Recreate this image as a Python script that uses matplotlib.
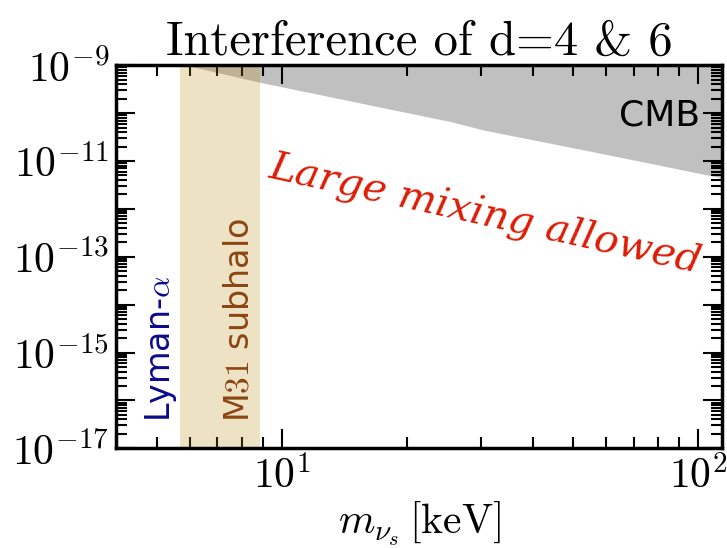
import numpy as np
import matplotlib.pyplot as plt
from matplotlib.ticker import LogLocator, FuncFormatter, NullFormatter

plt.rcParams['mathtext.fontset'] = 'cm'
plt.rcParams['font.family'] = 'DejaVu Sans'

# =========================================================
# Data
# =========================================================
m_cmb = [4.0, 5.87, 8.85, 25.5, 30.6, 53.2, 116.0]                 # keV
mix_cmb = [2.1e-9, 1.0e-9, 4.4e-10, 6.6e-11, 4.4e-11, 1.7e-11, 4.3e-12]

m31_band = [5.7, 8.85]      # keV, M31 subhalo bound
x_range = [4.0, 114.0]
y_range = [1e-17, 1e-9]
y_label_exps = [-17, -15, -13, -11, -9]

# =========================================================
# Figure
# =========================================================
fig = plt.figure(figsize=(7.27, 5.48), dpi=100)
ax = fig.add_axes([0.16, 0.182, 0.833, 0.699])

ax.set_xscale('log')
ax.set_yscale('log')

# CMB excluded region
ax.fill_between(m_cmb, mix_cmb, 1e-8, color='#c0c0c0', lw=0, zorder=1)

# M31 subhalo band
ax.axvspan(m31_band[0], m31_band[1], color='darkgoldenrod', alpha=0.24, lw=0, zorder=2)

ax.set_xlim(*x_range)
ax.set_ylim(*y_range)


def pow10(v, p):
    e = int(round(np.log10(v)))
    return r'$10^{%d}$' % e


def pow10_y(v, p):
    e = int(round(np.log10(v)))
    return r'$10^{%d}$' % e if e in y_label_exps else ''


# ticks
ax.yaxis.set_major_locator(LogLocator(base=10, numticks=20))
ax.yaxis.set_minor_locator(LogLocator(base=10, subs=np.arange(2, 10), numticks=20))
ax.yaxis.set_major_formatter(FuncFormatter(pow10_y))
ax.xaxis.set_major_formatter(FuncFormatter(pow10))
ax.yaxis.set_minor_formatter(NullFormatter())
ax.xaxis.set_minor_formatter(NullFormatter())

ax.tick_params(which='both', direction='in', top=True, right=True, width=1.5)
ax.tick_params(which='major', length=14, labelsize=30, pad=5)
ax.tick_params(which='minor', length=8)
for sp in ax.spines.values():
    sp.set_linewidth(2.5)
    sp.set_zorder(5)

# labels
ax.set_xlabel(r'$m_{\nu_s}\,[\mathrm{keV}]$', fontsize=30, labelpad=2)
ax.set_title('Interference of d=4 & 6', fontsize=35, pad=6, family='cmr10')

# annotations
ax.text(0.964, 0.87, 'CMB', transform=ax.transAxes, fontsize=26,
        ha='right', va='center')
ax.text(0.61, 0.608, 'Large mixing allowed', transform=ax.transAxes,
        fontsize=29, color='#dd1c05', family='DejaVu Serif', style='italic',
        rotation=-12.5, ha='center', va='center')
ax.text(0.074, 0.068, r'Lyman-$\alpha$', transform=ax.transAxes, fontsize=24,
        color='#0a0a8c', rotation=90, ha='center', va='bottom')
ax.text(0.203, 0.068, r'M$31$ subhalo', transform=ax.transAxes, fontsize=24,
        color='#8b4513', rotation=90, ha='center', va='bottom')

fig.savefig('out.png', dpi=100)
plt.close(fig)
